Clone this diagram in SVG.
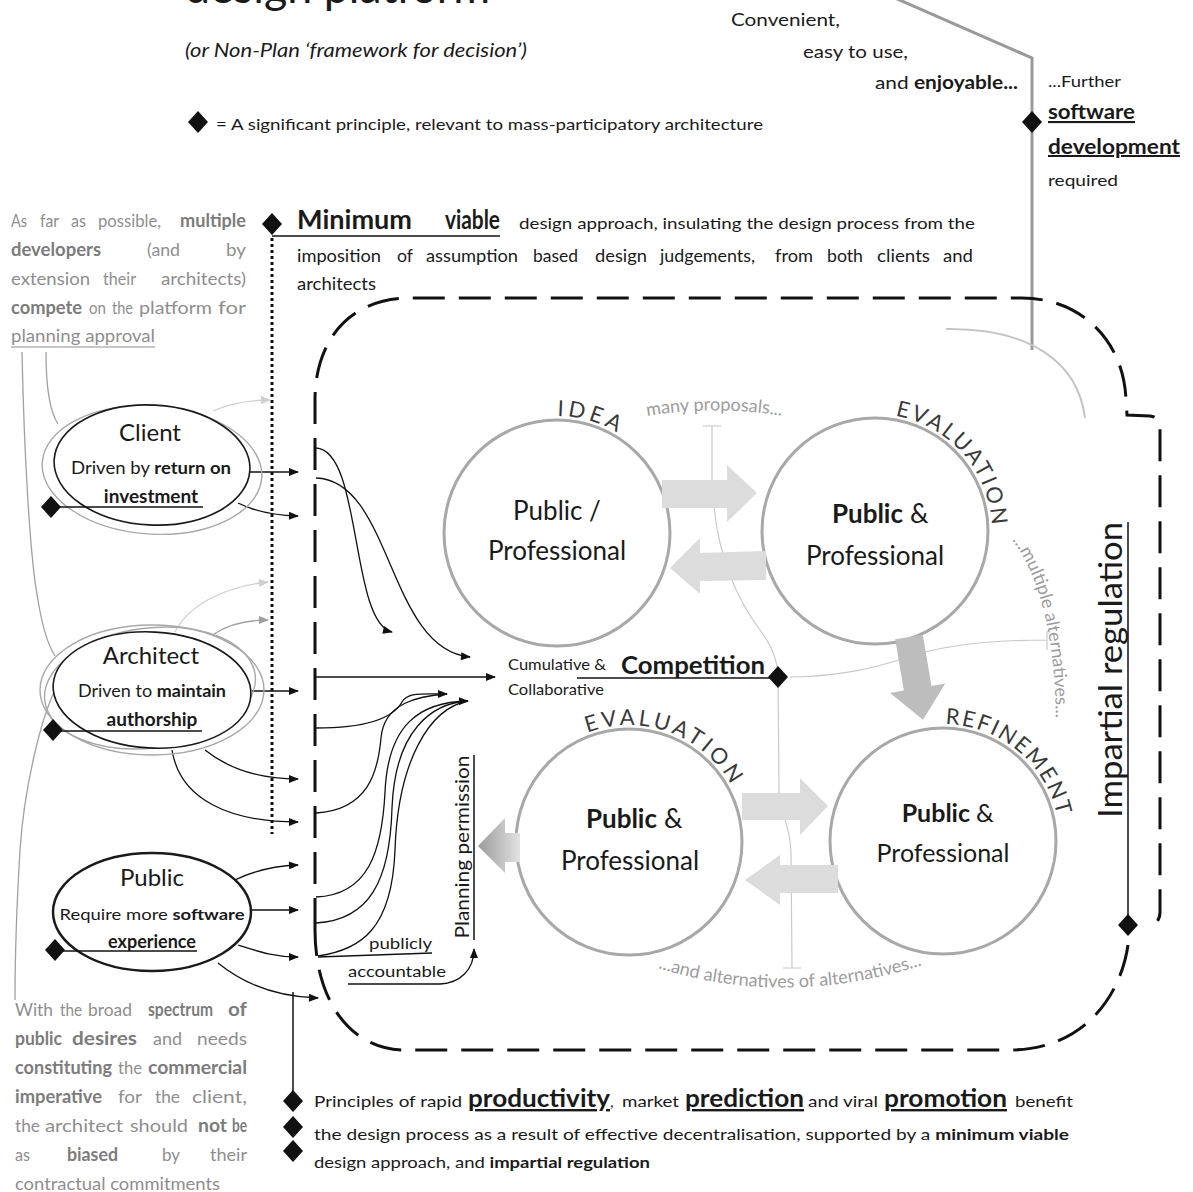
<svg xmlns="http://www.w3.org/2000/svg" width="1193" height="1192" viewBox="0 0 1193 1192">
<defs>
<style>
text{font-family:Lato,"Open Sans","Liberation Sans",sans-serif;fill:#1a1a1a}
.b{font-weight:bold}
.note text{fill:#8e8e8e;font-size:18px}
.note text.b{fill:#7c7c7c}
.e{text-anchor:end}
.ell{fill:#fff;stroke:#1a1a1a;stroke-width:1.6}
.ellg{fill:none;stroke:#a8a8a8;stroke-width:1.4}
.circ{fill:#fff;stroke:#a8a8a8;stroke-width:3}
.mid{text-anchor:middle}
.arc{font-size:22px;fill:#3a3a3a}
.faint{fill:#9c9c9c;font-size:18px}
.con{fill:none;stroke:#111;stroke-width:1.3}
.cong{fill:none;stroke:#a0a0a0;stroke-width:1.3}
.conl{fill:none;stroke:#cfcfcf;stroke-width:1.3}
.thin{fill:none;stroke:#c9c9c9;stroke-width:1.2}
.blk{fill:#dcdcdc}
.dash{fill:none;stroke:#111;stroke-width:3;stroke-dasharray:32 14}
.u{text-decoration:underline}
.ul{stroke:#111;stroke-width:1.5}
.t16{font-size:16px}
.w{font-size:18px}
.big{font-size:24px;font-weight:bold;text-decoration:underline}
</style>
<marker id="ah" viewBox="0 0 10 8" refX="9" refY="4" markerWidth="11" markerHeight="8" markerUnits="userSpaceOnUse" orient="auto"><path d="M0,0 L10,4 L0,8 z" fill="#111"/></marker>
<marker id="ahg" viewBox="0 0 10 8" refX="9" refY="4" markerWidth="11" markerHeight="8" markerUnits="userSpaceOnUse" orient="auto"><path d="M0,0 L10,4 L0,8 z" fill="#a0a0a0"/></marker>
<marker id="ahl" viewBox="0 0 10 8" refX="9" refY="4" markerWidth="11" markerHeight="8" markerUnits="userSpaceOnUse" orient="auto"><path d="M0,0 L10,4 L0,8 z" fill="#cfcfcf"/></marker>
<path id="dm" d="M0,-11 L10,0 L0,11 L-10,0 z" fill="#111"/>
<linearGradient id="gp" x1="0" y1="0" x2="1" y2="0"><stop offset="0" stop-color="#9a9a9a"/><stop offset="1" stop-color="#e2e2e2"/></linearGradient>
<!-- circular baselines for the stage labels, each starting at the left point and running clockwise -->
<path id="arcIdea" d="M440,533 A117,117 0 1 1 674,533 A117,117 0 1 1 440,533"/>
<path id="arcEval1" d="M758,531 A117,117 0 1 1 992,531 A117,117 0 1 1 758,531"/>
<path id="arcEval2" d="M512,842 A117,117 0 1 1 746,842 A117,117 0 1 1 512,842"/>
<path id="arcRef" d="M826,841 A117,117 0 1 1 1060,841 A117,117 0 1 1 826,841"/>
<path id="pMany" d="M647,416 Q720,404 795,418"/>
<path id="pMult" d="M1012,540 Q1058,600 1056,745"/>
<path id="pAlt" d="M658,968 Q790,1010 932,962"/>
</defs>
<rect width="1193" height="1192" fill="#fff"/>

<!-- heading and key -->
<g id="heading">
<text x="185" y="3" font-size="46" textLength="305" lengthAdjust="spacingAndGlyphs">design platform</text>
<text x="185" y="57" font-size="20" font-style="italic" textLength="342" lengthAdjust="spacingAndGlyphs">(or Non-Plan ‘framework for decision’)</text>
<use href="#dm" x="198" y="122"/>
<text x="216" y="130" font-size="16" textLength="547" lengthAdjust="spacingAndGlyphs">= A significant principle, relevant to mass-participatory architecture</text>
</g>

<!-- software note, top right -->
<g id="software-note">
<polyline points="895,-2 1032,58 1032,350" fill="none" stroke="#999" stroke-width="3"/>
<path d="M946,329 C1030,328 1078,362 1085,418" fill="none" stroke="#c4c4c4" stroke-width="2"/>
<text x="731" y="26" font-size="18" textLength="109" lengthAdjust="spacingAndGlyphs">Convenient,</text>
<text x="803" y="58" font-size="18" textLength="105" lengthAdjust="spacingAndGlyphs">easy to use,</text>
<text x="875" y="89" font-size="18" textLength="143" lengthAdjust="spacingAndGlyphs">and <tspan class="b">enjoyable...</tspan></text>
<use href="#dm" x="1032" y="122"/>
<text x="1048" y="87" font-size="16" textLength="73" lengthAdjust="spacingAndGlyphs">...Further</text>
<text x="1048" y="119" font-size="21" class="b u" textLength="87" lengthAdjust="spacingAndGlyphs">software</text>
<text x="1048" y="154" font-size="20" class="b u" textLength="132" lengthAdjust="spacingAndGlyphs">development</text>
<text x="1048" y="186" font-size="16" textLength="70" lengthAdjust="spacingAndGlyphs">required</text>
</g>

<!-- minimum viable principle -->
<g id="minimum-viable">
<use href="#dm" x="272" y="224"/>
<line x1="272" y1="236" x2="500" y2="236" class="ul"/>
<line x1="272" y1="238" x2="272" y2="834" stroke="#111" stroke-width="3" stroke-dasharray="3 3"/>
<text x="297" y="229" font-size="26" class="b" textLength="115" lengthAdjust="spacingAndGlyphs">Minimum</text>
<text x="445" y="229" font-size="26" class="b" textLength="55" lengthAdjust="spacingAndGlyphs">viable</text>
<text x="519" y="229" font-size="16" textLength="456" lengthAdjust="spacingAndGlyphs">design approach, insulating the design process from the</text>
<text class="w" x="297" y="262" textLength="84" lengthAdjust="spacingAndGlyphs">imposition</text>
<text class="w" x="397" y="262" textLength="16" lengthAdjust="spacingAndGlyphs">of</text>
<text class="w" x="426" y="262" textLength="92" lengthAdjust="spacingAndGlyphs">assumption</text>
<text class="w" x="533" y="262" textLength="45" lengthAdjust="spacingAndGlyphs">based</text>
<text class="w" x="595" y="262" textLength="52" lengthAdjust="spacingAndGlyphs">design</text>
<text class="w" x="660" y="262" textLength="95" lengthAdjust="spacingAndGlyphs">judgements,</text>
<text class="w" x="775" y="262" textLength="38" lengthAdjust="spacingAndGlyphs">from</text>
<text class="w" x="827" y="262" textLength="36" lengthAdjust="spacingAndGlyphs">both</text>
<text class="w" x="877" y="262" textLength="53" lengthAdjust="spacingAndGlyphs">clients</text>
<text class="w" x="943" y="262" textLength="30" lengthAdjust="spacingAndGlyphs">and</text>
<text class="w" x="297" y="290" textLength="79" lengthAdjust="spacingAndGlyphs">architects</text>
</g>

<!-- side notes, justified word by word -->
<g id="developers-note" class="note">
<text x="11" y="227" textLength="16" lengthAdjust="spacingAndGlyphs">As</text>
<text x="40" y="227" textLength="19" lengthAdjust="spacingAndGlyphs">far</text>
<text x="71" y="227" textLength="15" lengthAdjust="spacingAndGlyphs">as</text>
<text x="98" y="227" textLength="63" lengthAdjust="spacingAndGlyphs">possible,</text>
<text x="180" y="227" textLength="66" lengthAdjust="spacingAndGlyphs" class="b">multiple</text>
<text x="11" y="256" textLength="90" lengthAdjust="spacingAndGlyphs" class="b">developers</text>
<text x="147" y="256" textLength="33" lengthAdjust="spacingAndGlyphs">(and</text>
<text x="226" y="256" textLength="20" lengthAdjust="spacingAndGlyphs">by</text>
<text x="11" y="285" textLength="79" lengthAdjust="spacingAndGlyphs">extension</text>
<text x="103" y="285" textLength="33" lengthAdjust="spacingAndGlyphs">their</text>
<text x="161" y="285" textLength="85" lengthAdjust="spacingAndGlyphs">architects)</text>
<text x="11" y="314" textLength="71" lengthAdjust="spacingAndGlyphs" class="b">compete</text>
<text x="89" y="314" textLength="17" lengthAdjust="spacingAndGlyphs">on</text>
<text x="112" y="314" textLength="21" lengthAdjust="spacingAndGlyphs">the</text>
<text x="139" y="314" textLength="73" lengthAdjust="spacingAndGlyphs">platform</text>
<text x="218" y="314" textLength="28" lengthAdjust="spacingAndGlyphs">for</text>
<text x="11" y="342" textLength="144" lengthAdjust="spacingAndGlyphs">planning approval</text>
<line x1="11" y1="347" x2="155" y2="347" stroke="#8e8e8e" stroke-width="1.2"/>
</g>
<g id="public-note" class="note">
<text x="15" y="1016" textLength="38" lengthAdjust="spacingAndGlyphs">With</text>
<text x="60" y="1016" textLength="22" lengthAdjust="spacingAndGlyphs">the</text>
<text x="88" y="1016" textLength="44" lengthAdjust="spacingAndGlyphs">broad</text>
<text x="148" y="1016" textLength="65" lengthAdjust="spacingAndGlyphs" class="b">spectrum</text>
<text x="228" y="1016" textLength="19" lengthAdjust="spacingAndGlyphs" class="b">of</text>
<text x="15" y="1045" textLength="47" lengthAdjust="spacingAndGlyphs" class="b">public</text>
<text x="72" y="1045" textLength="65" lengthAdjust="spacingAndGlyphs" class="b">desires</text>
<text x="153" y="1045" textLength="29" lengthAdjust="spacingAndGlyphs">and</text>
<text x="197" y="1045" textLength="50" lengthAdjust="spacingAndGlyphs">needs</text>
<text x="15" y="1074" textLength="97" lengthAdjust="spacingAndGlyphs" class="b">constituting</text>
<text x="118" y="1074" textLength="24" lengthAdjust="spacingAndGlyphs">the</text>
<text x="148" y="1074" textLength="99" lengthAdjust="spacingAndGlyphs" class="b">commercial</text>
<text x="15" y="1103" textLength="87" lengthAdjust="spacingAndGlyphs" class="b">imperative</text>
<text x="118" y="1103" textLength="24" lengthAdjust="spacingAndGlyphs">for</text>
<text x="155" y="1103" textLength="25" lengthAdjust="spacingAndGlyphs">the</text>
<text x="192" y="1103" textLength="55" lengthAdjust="spacingAndGlyphs">client,</text>
<text x="15" y="1132" textLength="25" lengthAdjust="spacingAndGlyphs">the</text>
<text x="45" y="1132" textLength="78" lengthAdjust="spacingAndGlyphs">architect</text>
<text x="130" y="1132" textLength="58" lengthAdjust="spacingAndGlyphs">should</text>
<text x="198" y="1132" textLength="29" lengthAdjust="spacingAndGlyphs" class="b">not</text>
<text x="232" y="1132" textLength="15" lengthAdjust="spacingAndGlyphs" class="b">be</text>
<text x="15" y="1161" textLength="15" lengthAdjust="spacingAndGlyphs">as</text>
<text x="67" y="1161" textLength="51" lengthAdjust="spacingAndGlyphs" class="b">biased</text>
<text x="162" y="1161" textLength="18" lengthAdjust="spacingAndGlyphs">by</text>
<text x="210" y="1161" textLength="37" lengthAdjust="spacingAndGlyphs">their</text>
<text x="15" y="1190" textLength="205" lengthAdjust="spacingAndGlyphs">contractual commitments</text>
</g>

<!-- platform boundary -->
<g id="boundary">
<path class="dash" d="M315,930 L315,400 C315,340 350,298 410,298 L1022,298 C1080,298 1124,340 1126,400 L1127,415 L1150,416 Q1160,417 1160,428 L1160,912 Q1160,925 1146,926"/>
<path class="dash" d="M1128,945 C1120,1000 1080,1050 1010,1050 L405,1050 C350,1050 315,1000 315,930"/>
</g>

<!-- connectors -->
<g id="connectors">
<!-- faint links from the side notes -->
<path class="cong" d="M22,352 C24,450 30,560 38,600 C42,625 48,645 55,656"/>
<path class="cong" d="M46,352 C46,390 50,412 58,424"/>
<path class="cong" d="M56,688 C40,720 24,790 20,850 C17,900 15,960 15,1000"/>
<!-- client -->
<path class="conl" d="M213,411 Q238,400 270,400" marker-end="url(#ahl)"/>
<path class="con" d="M248,472 L298,472" marker-end="url(#ah)"/>
<path class="con" d="M238,503 Q262,515 298,516" marker-end="url(#ah)"/>
<!-- architect -->
<path class="conl" d="M175,632 C190,602 230,586 268,582" marker-end="url(#ahl)"/>
<path class="cong" d="M214,634 Q235,620 268,620" marker-end="url(#ahg)"/>
<path class="con" d="M252,691 L298,691" marker-end="url(#ah)"/>
<path class="con" d="M205,750 C230,770 260,779 298,779" marker-end="url(#ah)"/>
<path class="con" d="M172,750 C180,800 230,822 298,822" marker-end="url(#ah)"/>
<!-- public -->
<path class="con" d="M235,880 C255,870 275,866 298,865" marker-end="url(#ah)"/>
<path class="con" d="M252,910 L298,910" marker-end="url(#ah)"/>
<path class="con" d="M238,945 C260,952 275,957 298,957" marker-end="url(#ah)"/>
<path class="con" d="M218,963 C245,985 280,997 318,998" marker-end="url(#ah)"/>
<!-- into the competition -->
<path class="con" d="M316,448 C362,450 350,622 392,632" marker-end="url(#ah)"/>
<path class="con" d="M316,478 C392,480 388,650 470,657" marker-end="url(#ah)"/>
<path class="con" d="M316,677 L495,677" marker-end="url(#ah)"/>
<path class="con" d="M316,728 C362,728 392,720 402,702 C408,692 422,694 447,694" marker-end="url(#ah)"/>
<path class="con" d="M316,813 C368,810 378,772 381,738 C384,702 420,696 447,694"/>
<path class="con" d="M316,897 C368,895 382,852 385,792 C388,724 420,702 468,701" marker-end="url(#ah)"/>
<path class="con" d="M316,923 C370,920 390,880 392,808 C395,730 432,703 468,701"/>
<path class="con" d="M318,956 C360,950 392,930 395,850 C398,760 430,708 468,701"/>
<line x1="318" y1="957" x2="432" y2="953" class="ul"/>
<path class="con" d="M348,984 L440,984 C460,983 474,970 474,949" marker-end="url(#ah)"/>
<line x1="577" y1="678" x2="778" y2="678" class="ul"/>
<!-- to the closing principles -->
<line x1="293" y1="992" x2="293" y2="1098" class="ul"/>
<!-- impartial regulation -->
<line x1="1128" y1="522" x2="1128" y2="925" class="ul"/>
</g>

<!-- faint alternative traces -->
<g id="traces">
<path class="thin" d="M703,426 L721,426 M712,426 L712,480 C714,540 730,590 760,630 C772,646 778,660 778,677"/>
<path class="thin" d="M778,677 L779,790 C779,812 790,822 791,852 L792,968 M783,968 L801,968"/>
<path class="thin" d="M790,677 C850,676 880,666 925,652 C960,643 1000,640 1047,640 M1047,631 L1047,650"/>
</g>

<!-- stakeholders -->
<g id="client">
<ellipse class="ellg" cx="152" cy="470" rx="110" ry="64" transform="rotate(4 152 470)"/>
<ellipse class="ell" cx="152" cy="465" rx="98" ry="60" transform="rotate(3 152 465)"/>
<text x="150" y="441" font-size="24" class="mid">Client</text>
<text x="151" y="474" font-size="17" class="mid" textLength="160" lengthAdjust="spacingAndGlyphs">Driven by <tspan class="b">return on</tspan></text>
<text x="151" y="503" font-size="19" class="mid b">investment</text>
<line x1="51" y1="507" x2="203" y2="507" class="ul"/>
<use href="#dm" x="51" y="507"/>
</g>
<g id="architect">
<ellipse class="ellg" cx="152" cy="690" rx="112" ry="65"/>
<ellipse class="ellg" cx="150" cy="688" rx="106" ry="60" transform="rotate(-7 150 688)"/>
<ellipse class="ell" cx="152" cy="690" rx="99" ry="58" transform="rotate(3 152 690)"/>
<text x="151" y="664" font-size="24" class="mid">Architect</text>
<text x="152" y="697" font-size="17" class="mid" textLength="148" lengthAdjust="spacingAndGlyphs">Driven to <tspan class="b">maintain</tspan></text>
<text x="152" y="726" font-size="19" class="mid b">authorship</text>
<line x1="53" y1="731" x2="202" y2="731" class="ul"/>
<use href="#dm" x="53" y="730"/>
</g>
<g id="public">
<ellipse class="ell" cx="152" cy="912" rx="99" ry="59" style="stroke-width:2.5"/>
<text x="152" y="886" font-size="24" class="mid">Public</text>
<text x="152" y="920" font-size="16" class="mid" textLength="185" lengthAdjust="spacingAndGlyphs">Require more <tspan class="b">software</tspan></text>
<text x="152" y="948" font-size="18" class="mid b">experience</text>
<line x1="55" y1="951" x2="197" y2="951" class="ul"/>
<use href="#dm" x="55" y="950"/>
</g>

<!-- design cycle -->
<g id="idea">
<circle class="circ" cx="557" cy="533" r="113"/>
<text class="arc" letter-spacing="4"><textPath href="#arcIdea" startOffset="184">IDEA</textPath></text>
<text x="557" y="520" font-size="26" class="mid">Public /</text>
<text x="557" y="560" font-size="26" class="mid">Professional</text>
</g>
<g id="evaluation-1">
<circle class="circ" cx="875" cy="531" r="113"/>
<text class="arc" letter-spacing="2.5"><textPath href="#arcEval1" startOffset="204">EVALUATION</textPath></text>
<text x="903" y="523" font-size="26" class="b e">Public</text>
<text x="910" y="523" font-size="26">&amp;</text>
<text x="875" y="565" font-size="26" class="mid">Professional</text>
</g>
<g id="evaluation-2">
<circle class="circ" cx="629" cy="842" r="113"/>
<text class="arc" letter-spacing="3.5"><textPath href="#arcEval2" startOffset="141">EVALUATION</textPath></text>
<text x="657" y="828" font-size="26" class="b e">Public</text>
<text x="664" y="828" font-size="26">&amp;</text>
<text x="630" y="870" font-size="26" class="mid">Professional</text>
</g>
<g id="refinement">
<circle class="circ" cx="943" cy="841" r="113"/>
<text class="arc" letter-spacing="2"><textPath href="#arcRef" startOffset="186">REFINEMENT</textPath></text>
<text x="970" y="822" font-size="25" class="b e">Public</text>
<text x="976" y="822" font-size="25">&amp;</text>
<text x="943" y="862" font-size="25" class="mid">Professional</text>
</g>

<!-- flow arrows of the cycle -->
<g id="cycle-arrows">
<polygon class="blk" points="662,480 727,480 727,465 757,493 727,522 727,508 662,508"/>
<polygon class="blk" points="766,551 700,553 700,538 670,568 700,594 700,581 766,580"/>
<polygon fill="#bdbdbd" transform="translate(909,637) rotate(-9.6)" points="-14,0 14,0 14,52 28,52 0,84 -28,52 -14,52"/>
<polygon class="blk" points="742,793 800,793 800,778 828,806 800,835 800,820 742,820"/>
<polygon class="blk" points="838,865 780,865 780,855 745,880 780,905 780,893 838,893"/>
<polygon fill="url(#gp)" points="520,833 505,833 505,818 478,846 505,873 505,862 520,862"/>
</g>

<!-- cycle annotations -->
<g id="annotations">
<text class="faint" font-size="18.5"><textPath href="#pMany">many proposals...</textPath></text>
<text class="faint" font-size="17.5"><textPath href="#pMult">...multiple alternatives...</textPath></text>
<text class="faint" font-size="18.5"><textPath href="#pAlt">...and alternatives of alternatives...</textPath></text>
<text x="508" y="670" font-size="15" textLength="98" lengthAdjust="spacingAndGlyphs">Cumulative &amp;</text>
<text x="508" y="695" font-size="15" textLength="96" lengthAdjust="spacingAndGlyphs">Collaborative</text>
<text x="621" y="674" font-size="24" class="b" textLength="144" lengthAdjust="spacingAndGlyphs">Competition</text>
<use href="#dm" x="778" y="677"/>
<text x="369" y="949" font-size="16" textLength="63" lengthAdjust="spacingAndGlyphs">publicly</text>
<text x="348" y="977" font-size="16" textLength="98" lengthAdjust="spacingAndGlyphs">accountable</text>
<text x="0" y="0" font-size="19" class="mid" textLength="183" lengthAdjust="spacingAndGlyphs" transform="translate(469,847) rotate(-90)">Planning permission</text>
<line x1="474" y1="755" x2="474" y2="940" class="ul"/>
<text x="0" y="0" font-size="33" class="mid" textLength="296" lengthAdjust="spacingAndGlyphs" transform="translate(1122,670) rotate(-90)">Impartial regulation</text>
<use href="#dm" x="1128" y="925"/>
</g>

<!-- closing principles -->
<g id="principles">
<use href="#dm" x="293" y="1101"/>
<use href="#dm" x="293" y="1127"/>
<use href="#dm" x="293" y="1151"/>
<text x="314" y="1107" class="t16" textLength="148" lengthAdjust="spacingAndGlyphs">Principles of rapid</text>
<text x="468" y="1107" class="big" textLength="142" lengthAdjust="spacingAndGlyphs">productivity</text>
<text x="610" y="1107" class="t16">,</text>
<text x="622" y="1107" class="t16" textLength="57" lengthAdjust="spacingAndGlyphs">market</text>
<text x="685" y="1107" class="big" textLength="119" lengthAdjust="spacingAndGlyphs">prediction</text>
<text x="808" y="1107" class="t16" textLength="70" lengthAdjust="spacingAndGlyphs">and viral</text>
<text x="884" y="1107" class="big" textLength="123" lengthAdjust="spacingAndGlyphs">promotion</text>
<text x="1015" y="1107" class="t16" textLength="58" lengthAdjust="spacingAndGlyphs">benefit</text>
<text x="314" y="1140" font-size="16" textLength="755" lengthAdjust="spacingAndGlyphs">the design process as a result of effective decentralisation, supported by a <tspan class="b">minimum viable</tspan></text>
<text x="314" y="1168" font-size="16" textLength="336" lengthAdjust="spacingAndGlyphs">design approach, and <tspan class="b">impartial regulation</tspan></text>
</g>
</svg>
